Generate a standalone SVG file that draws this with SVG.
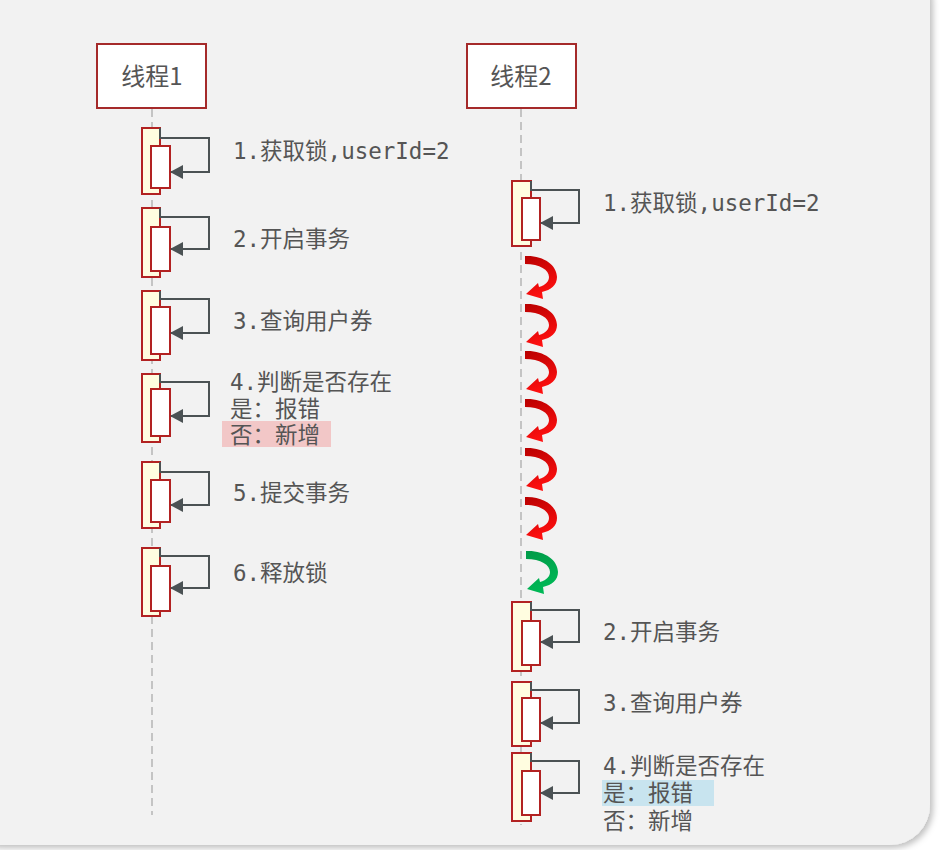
<svg xmlns="http://www.w3.org/2000/svg" width="941" height="850" viewBox="0 0 941 850">
<defs>
<filter id="sh" x="-5%" y="-5%" width="110%" height="110%"><feDropShadow dx="3" dy="3" stdDeviation="3" flood-color="#000" flood-opacity="0.25"/></filter>
<linearGradient id="gr" x1="0" y1="0" x2="0.3" y2="1"><stop offset="0" stop-color="#b80000"/><stop offset="1" stop-color="#ff1010"/></linearGradient>
<linearGradient id="gg" x1="0" y1="0" x2="0.3" y2="1"><stop offset="0" stop-color="#009a48"/><stop offset="1" stop-color="#00b856"/></linearGradient>
<marker id="ah" markerWidth="14" markerHeight="14" refX="12" refY="7" orient="auto" markerUnits="userSpaceOnUse"><path d="M0,0 L13,7 L0,14 Z" fill="#4b5254"/></marker>
<path id="curl" d="M0,0 C18,-1 32,9 32,21 C32,29 26,34 17,36 L18,43 L1,38 L13,27 L14,31 C21,29 24,25 24,21 C24,14 15,8 0,8 Z"/>
</defs>
<style>
.head{fill:#fff;stroke:#a52a2a;stroke-width:2}
.life{stroke:#c4c4c4;stroke-width:2;stroke-dasharray:8 5;fill:none}
.act{fill:#fffde0;stroke:#b22222;stroke-width:2}
.act2{fill:#fff;stroke:#b22222;stroke-width:2}
.msg{fill:none;stroke:#4b5254;stroke-width:2;marker-end:url(#ah)}
.t{font-family:"DejaVu Sans Mono","Noto Sans CJK SC",monospace;font-size:22.5px;fill:#555}
.ht{font-family:"Noto Sans CJK SC","DejaVu Sans",sans-serif;font-size:24px;fill:#555;text-anchor:middle}
</style>
<rect x="0" y="0" width="941" height="850" fill="#ffffff"/>
<rect x="-40" y="-40" width="970" height="885" rx="40" fill="#f2f2f2" filter="url(#sh)"/>

<g id="connectors">
<line class="life" x1="152" y1="109" x2="152" y2="815"/>
<line class="life" x1="521" y1="109" x2="521" y2="825"/>
</g>

<g id="thread1">
<rect class="head" x="97" y="44" width="109" height="64"/>
<text class="ht" x="152" y="85">线程1</text>
</g>
<g id="thread2">
<rect class="head" x="467" y="44" width="109" height="64"/>
<text class="ht" x="521" y="85">线程2</text>
</g>

<g id="l1">
<rect class="act" x="142" y="128" width="18" height="66"/><rect class="act2" x="151" y="146" width="19" height="42"/>
<path class="msg" d="M160,128 V138 H209 V172 H171"/>
<text class="t" x="233" y="159">1.获取锁,userId=2</text>
</g>
<g id="l2">
<rect class="act" x="142" y="208" width="18" height="69"/><rect class="act2" x="151" y="227" width="19" height="44"/>
<path class="msg" d="M160,208 V217 H209 V249 H171"/>
<text class="t" x="233" y="247">2.开启事务</text>
</g>
<g id="l3">
<rect class="act" x="142" y="291" width="18" height="69"/><rect class="act2" x="151" y="307" width="19" height="47"/>
<path class="msg" d="M160,291 V299 H209 V333 H171"/>
<text class="t" x="233" y="329">3.查询用户券</text>
</g>
<g id="l4">
<rect class="act" x="142" y="374" width="18" height="68"/><rect class="act2" x="151" y="389" width="19" height="47"/>
<path class="msg" d="M160,374 V382 H209 V416 H171"/>
<rect x="222" y="421" width="109" height="26" fill="#f2c7c7"/>
<text class="t" x="230" y="390">4.判断是否存在</text>
<text class="t" x="230" y="417">是：报错</text>
<text class="t" x="230" y="443">否：新增</text>
</g>
<g id="l5">
<rect class="act" x="142" y="462" width="18" height="66"/><rect class="act2" x="151" y="480" width="19" height="42"/>
<path class="msg" d="M160,462 V472 H209 V505 H171"/>
<text class="t" x="233" y="501">5.提交事务</text>
</g>
<g id="l6">
<rect class="act" x="142" y="548" width="18" height="68"/><rect class="act2" x="151" y="566" width="19" height="45"/>
<path class="msg" d="M160,548 V556 H209 V588 H171"/>
<text class="t" x="233" y="581">6.释放锁</text>
</g>

<g id="r1">
<rect class="act" x="512" y="181" width="19" height="65"/><rect class="act2" x="522" y="198" width="18" height="42"/>
<path class="msg" d="M531,181 V190 H579 V223 H541"/>
<text class="t" x="603" y="211">1.获取锁,userId=2</text>
</g>
<g id="waits">
<use href="#curl" x="525" y="256" fill="url(#gr)"/>
<use href="#curl" x="525" y="304" fill="url(#gr)"/>
<use href="#curl" x="525" y="351" fill="url(#gr)"/>
<use href="#curl" x="525" y="399" fill="url(#gr)"/>
<use href="#curl" x="525" y="448" fill="url(#gr)"/>
<use href="#curl" x="525" y="497" fill="url(#gr)"/>
<use href="#curl" x="526" y="551" fill="url(#gg)"/>
</g>
<g id="r2">
<rect class="act" x="512" y="602" width="19" height="69"/><rect class="act2" x="522" y="621" width="18" height="44"/>
<path class="msg" d="M531,602 V610 H579 V642 H541"/>
<text class="t" x="603" y="640">2.开启事务</text>
</g>
<g id="r3">
<rect class="act" x="512" y="682" width="19" height="64"/><rect class="act2" x="522" y="698" width="18" height="43"/>
<path class="msg" d="M531,682 V690 H579 V723 H541"/>
<text class="t" x="603" y="711">3.查询用户券</text>
</g>
<g id="r4">
<rect class="act" x="512" y="753" width="19" height="68"/><rect class="act2" x="522" y="771" width="18" height="44"/>
<path class="msg" d="M531,753 V761 H579 V793 H541"/>
<rect x="602" y="780" width="112" height="26" fill="#c8e4ef"/>
<text class="t" x="603" y="774">4.判断是否存在</text>
<text class="t" x="603" y="801">是：报错</text>
<text class="t" x="603" y="829">否：新增</text>
</g>
</svg>
